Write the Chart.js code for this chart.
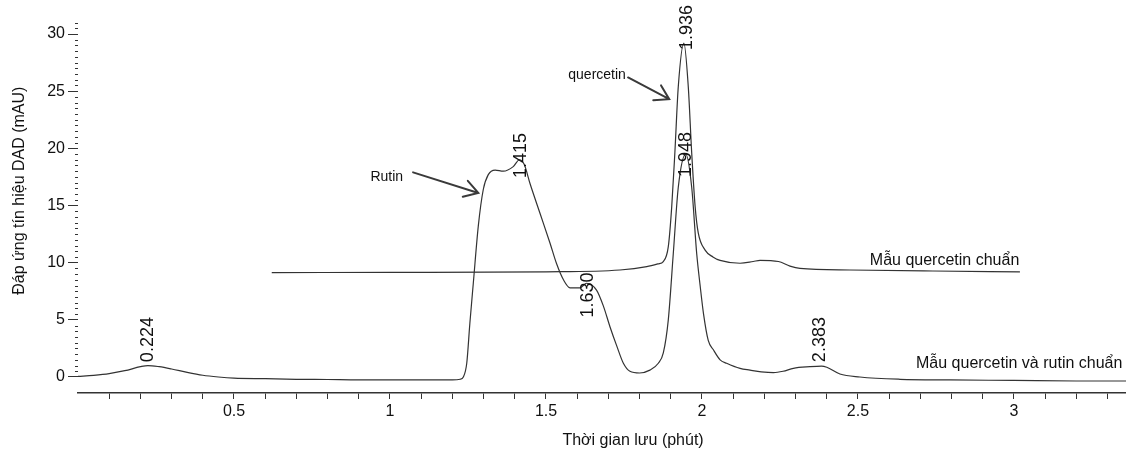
<!DOCTYPE html>
<html>
<head>
<meta charset="utf-8">
<script src="https://cdn.jsdelivr.net/npm/chart.js@4.4.1/dist/chart.umd.min.js"></script>
<style>
  html, body { margin: 0; padding: 0; background: #fff; }
  #wrap { width: 1126px; height: 459px; }
</style>
</head>
<body>
<div id="wrap"><canvas id="chart"></canvas></div>
<script>
// Lower trace: quercetin + rutin standard mix (time in min, signal in mAU)
const mixTime = [
  0.00, 0.05, 0.10, 0.15, 0.20, 0.224, 0.26, 0.30, 0.35, 0.40, 0.45, 0.50,
  0.60, 0.70, 0.80, 0.90, 1.00, 1.10, 1.20, 1.225, 1.235, 1.246, 1.256, 1.267,
  1.283, 1.299, 1.315, 1.337, 1.363, 1.395, 1.415, 1.43, 1.449, 1.481, 1.513,
  1.534, 1.556, 1.577, 1.609, 1.630, 1.662, 1.684, 1.705, 1.727, 1.748, 1.769,
  1.80, 1.833, 1.86, 1.876, 1.892, 1.908, 1.924, 1.948, 1.967, 1.983, 1.994,
  2.005, 2.02, 2.036, 2.058, 2.079, 2.122, 2.154, 2.19, 2.229, 2.26, 2.293,
  2.346, 2.383, 2.40, 2.442, 2.506, 2.635, 2.795, 3.00, 3.20, 3.36
];
const mixSignal = [
  0.05, 0.15, 0.3, 0.55, 0.9, 1.0, 0.9, 0.7, 0.4, 0.15, 0.0, -0.1,
  -0.15, -0.2, -0.22, -0.25, -0.25, -0.26, -0.25, -0.2, 0.0, 1.2, 4.7, 8.2,
  13.2, 16.4, 17.7, 18.1, 18.0, 18.4, 19.0, 18.6, 16.9, 14.3, 11.7,
  9.9, 8.5, 7.8, 7.8, 8.2, 7.6, 6.2, 4.4, 2.7, 1.2, 0.5,
  0.35, 0.6, 1.2, 2.1, 5.0, 10.8, 16.6, 19.5, 16.6, 10.8, 8.0,
  5.5, 3.2, 2.4, 1.5, 1.2, 0.75, 0.6, 0.45, 0.38, 0.5, 0.76,
  0.9, 0.95, 0.85, 0.26, 0.0, -0.2, -0.26, -0.3, -0.35, -0.35
];

// Upper trace: quercetin standard
const stdTime = [
  0.621, 1.00, 1.50, 1.737, 1.823, 1.86, 1.876, 1.892, 1.903, 1.913, 1.924,
  1.942, 1.956, 1.967, 1.978, 1.988, 2.01, 2.035, 2.058, 2.122, 2.164, 2.186,
  2.245, 2.282, 2.314, 2.474, 2.74, 3.019
];
const stdSignal = [
  9.13, 9.15, 9.2, 9.36, 9.65, 9.9, 10.1, 11.4, 14.9, 19.6, 25.4,
  29.2, 25.4, 19.6, 14.9, 12.6, 11.1, 10.5, 10.2, 9.95, 10.1, 10.2,
  10.1, 9.7, 9.5, 9.36, 9.27, 9.2
];

const xTickLabels = [0.5, 1, 1.5, 2, 2.5, 3];
const yTickLabels = [0, 5, 10, 15, 20, 25, 30];

const xTitle = "Thời gian lưu (phút)";
const yTitle = "Đáp ứng tín hiệu DAD (mAU)";

// annotations, anchored in data coordinates
const peakMarks = [
  { text: "0.224", t: 0.224, v: 1.3 },
  { text: "1.415", t: 1.42, v: 17.4 },
  { text: "1.630", t: 1.635, v: 5.2 },
  { text: "1.936", t: 1.952, v: 28.6 },
  { text: "1.948", t: 1.949, v: 17.5 },
  { text: "2.383", t: 2.378, v: 1.3 }
];
const notes = [
  { text: "Rutin", t: 1.042, v: 17.5, align: "right", size: 14 },
  { text: "quercetin", t: 1.756, v: 26.4, align: "right", size: 14 },
  { text: "Mẫu quercetin chuẩn", t: 2.538, v: 9.8, align: "left", size: 16, base: "alphabetic" },
  { text: "Mẫu quercetin và rutin chuẩn", t: 2.686, v: 0.76, align: "left", size: 16, base: "alphabetic" }
];
const arrows = [
  { from: [1.074, 17.9], to: [1.283, 16.1] },
  { from: [1.763, 26.2], to: [1.895, 24.3] }
];

const FONT = "'Liberation Sans', Arial, sans-serif";
const INK = "#333";

const toPoints = (ts, vs) => ts.map((t, i) => ({ x: t, y: vs[i] }));

const annotate = {
  id: "annotate",
  afterDatasetsDraw(chart) {
    const { ctx, chartArea, scales: { x, y } } = chart;
    ctx.save();

    // minor ticks on the y axis (every 0.5 mAU)
    ctx.strokeStyle = INK;
    ctx.lineWidth = 1;
    for (let i = 1; i <= 62; i++) {
      if (i % 10 === 0) continue;
      const py = Math.round(y.getPixelForValue(i * 0.5)) + 0.5;
      ctx.beginPath();
      ctx.moveTo(chartArea.left - 3, py);
      ctx.lineTo(chartArea.left, py);
      ctx.stroke();
    }

    ctx.fillStyle = "#111";
    // axis titles (sit off-centre in the original)
    ctx.font = "16px " + FONT;
    ctx.textAlign = "center";
    ctx.textBaseline = "middle";
    ctx.fillText(xTitle, x.getPixelForValue(1.779), chartArea.bottom + 48);
    ctx.save();
    ctx.translate(20, y.getPixelForValue(16.3));
    ctx.rotate(-Math.PI / 2);
    ctx.fillText(yTitle, 0, 0);
    ctx.restore();

    // rotated retention-time labels
    ctx.font = "18px " + FONT;
    ctx.textAlign = "left";
    peakMarks.forEach((m) => {
      ctx.save();
      ctx.translate(x.getPixelForValue(m.t), y.getPixelForValue(m.v));
      ctx.rotate(-Math.PI / 2);
      ctx.fillText(m.text, 0, 0);
      ctx.restore();
    });

    notes.forEach((n) => {
      ctx.font = n.size + "px " + FONT;
      ctx.textAlign = n.align;
      ctx.textBaseline = n.base || "middle";
      ctx.fillText(n.text, x.getPixelForValue(n.t), y.getPixelForValue(n.v));
    });

    // arrows with open heads
    ctx.strokeStyle = "#3a3a3a";
    ctx.lineWidth = 2;
    ctx.lineCap = "round";
    arrows.forEach((a) => {
      const x1 = x.getPixelForValue(a.from[0]), y1 = y.getPixelForValue(a.from[1]);
      const x2 = x.getPixelForValue(a.to[0]), y2 = y.getPixelForValue(a.to[1]);
      const ang = Math.atan2(y1 - y2, x1 - x2);
      const head = 16, spread = 0.55;
      ctx.beginPath();
      ctx.moveTo(x1, y1);
      ctx.lineTo(x2, y2);
      ctx.moveTo(x2 + head * Math.cos(ang + spread), y2 + head * Math.sin(ang + spread));
      ctx.lineTo(x2, y2);
      ctx.lineTo(x2 + head * Math.cos(ang - spread), y2 + head * Math.sin(ang - spread));
      ctx.stroke();
    });

    ctx.restore();
  }
};

const lineStyle = {
  borderColor: INK,
  borderWidth: 1.2,
  pointRadius: 0,
  fill: false,
  cubicInterpolationMode: "monotone"
};

new Chart(document.getElementById("chart"), {
  type: "line",
  data: {
    datasets: [
      { label: "Mẫu quercetin chuẩn", data: toPoints(stdTime, stdSignal), ...lineStyle },
      { label: "Mẫu quercetin và rutin chuẩn", data: toPoints(mixTime, mixSignal), ...lineStyle }
    ]
  },
  options: {
    responsive: true,
    maintainAspectRatio: false,
    animation: false,
    layout: { padding: { top: 18, right: 0, left: 0, bottom: 0 } },
    plugins: {
      legend: { display: false },
      tooltip: { enabled: false }
    },
    scales: {
      x: {
        type: "linear",
        min: 0,
        max: 3.359,
        afterBuildTicks: (axis) => {
          const ticks = [];
          for (let i = 1; i <= 33; i++) ticks.push({ value: +(i * 0.1).toFixed(1) });
          axis.ticks = ticks;
        },
        afterFit: (axis) => { axis.height = 66; },
        grid: { drawOnChartArea: false, tickLength: 6, color: INK, lineWidth: 1 },
        border: { display: true, color: INK, width: 1.5 },
        ticks: {
          autoSkip: false,
          maxRotation: 0,
          padding: 3,
          color: "#111",
          font: { family: FONT, size: 16 },
          callback: (v) => (xTickLabels.includes(v) ? String(v) : "")
        }
      },
      y: {
        min: -1.4,
        max: 31.4,
        afterBuildTicks: (axis) => { axis.ticks = yTickLabels.map((v) => ({ value: v })); },
        afterFit: (axis) => { axis.width = 78; },
        grid: { drawOnChartArea: false, tickLength: 10, color: INK, lineWidth: 1 },
        border: { display: false },
        ticks: {
          padding: 3,
          color: "#111",
          font: { family: FONT, size: 16 },
          callback: (v) => String(v)
        }
      }
    }
  },
  plugins: [annotate]
});
</script>
</body>
</html>
